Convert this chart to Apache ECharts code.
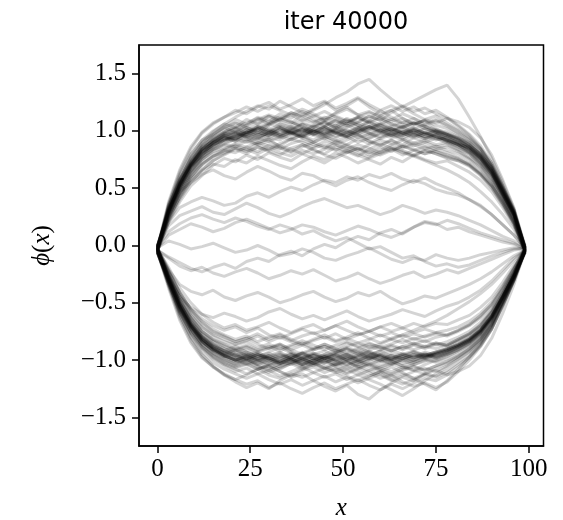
<!DOCTYPE html>
<html>
<head>
<meta charset="utf-8">
<title>iter 40000</title>
<script src="https://cdn.jsdelivr.net/npm/echarts@6/dist/echarts.min.js"></script>
<style>
  html, body { margin: 0; padding: 0; background: #fff; }
  #chart { width: 563px; height: 520px; }
</style>
</head>
<body>
<div id="chart"></div>
<script>
// sample positions along x
const xs = [0, 3, 6, 9, 12, 15, 18, 21, 24, 27, 30, 33, 36, 39, 42, 45, 48, 51,
            54, 57, 60, 63, 66, 69, 72, 75, 78, 81, 84, 87, 90, 93, 96, 99];

// phi(x), in hundredths
const upperPaths = [
    [-2,28,55,70,78,90,95,92,99,96,103,97,101,106,99,104,98,95,101,108,103,99,96,100,94,97,91,88,86,76,65,44,27,-4],
    [-5,35,60,79,92,97,104,110,106,112,108,115,111,117,113,109,116,121,114,110,118,112,107,111,105,109,104,98,92,84,70,50,29,-2],
    [0,22,42,58,66,74,79,84,80,86,82,79,85,88,83,80,86,82,78,84,89,85,81,78,83,80,76,74,70,62,52,38,20,-5],
    [-3,31,50,66,80,85,92,96,101,98,105,110,107,114,119,125,118,122,128,121,115,118,111,106,109,102,97,93,87,80,66,48,27,-1],
    [-4,29,53,71,83,92,97,99,94,90,93,86,82,88,84,79,76,81,85,79,83,88,92,87,90,94,89,84,80,71,60,42,24,-6],
    [-1,33,58,72,86,91,98,102,97,104,100,106,103,99,105,108,102,98,103,109,105,101,104,98,102,99,95,91,87,79,68,49,31,0],
    [-6,26,47,62,75,82,85,89,93,88,91,87,93,96,90,94,89,92,96,91,87,92,88,94,90,86,88,83,77,70,57,41,22,-3],
    [-2,36,62,80,92,100,106,103,110,106,113,109,116,112,118,123,129,134,141,145,136,128,121,115,110,113,107,101,94,85,72,52,31,-3],
    [-3,27,50,68,79,88,92,97,95,101,99,104,100,106,103,108,104,111,107,113,109,116,121,126,131,136,140,128,112,95,76,55,32,-2],
    [-5,20,38,52,61,70,76,73,79,75,81,77,74,80,76,72,78,83,79,75,71,77,73,79,75,72,74,69,64,57,47,33,17,-7],
    [-1,30,54,73,84,89,96,93,98,102,97,95,100,96,92,98,103,99,94,97,101,96,99,103,98,95,92,88,81,72,61,44,25,-4],
    [-4,32,51,67,77,87,91,95,99,104,101,97,94,99,96,101,105,100,97,93,98,94,97,101,97,99,94,90,84,76,63,46,28,-1],
    [-2,34,57,76,88,96,103,107,104,109,113,108,105,110,107,112,109,104,108,113,110,106,103,107,104,100,98,94,90,82,69,50,30,-3],
    [-3,25,46,63,73,80,84,88,86,90,87,84,89,92,88,85,91,87,83,88,92,89,85,88,84,87,83,80,75,67,55,39,21,-5],
    [0,29,52,69,81,90,93,98,95,99,96,102,98,94,99,103,99,95,100,104,100,96,101,97,93,97,94,89,85,76,64,45,26,-2],
    [-6,27,49,64,76,84,89,94,98,103,107,112,108,104,100,96,91,95,90,94,98,102,98,94,97,93,91,86,81,73,61,43,24,-4],
    [-2,38,66,86,99,107,112,116,121,117,122,118,114,119,115,110,106,110,105,101,105,100,103,99,102,98,96,92,86,78,66,48,28,-2],
    [-3,30,53,70,82,87,94,91,96,93,99,95,92,97,101,98,102,107,103,99,103,100,96,99,95,98,93,90,85,77,64,46,27,-3],
    [-5,24,48,65,77,84,88,93,90,94,91,95,99,94,90,95,92,88,93,89,94,98,93,89,92,88,90,86,80,71,59,42,23,-6],
    [-1,31,55,71,85,93,98,96,101,97,94,99,104,101,97,93,98,101,97,102,106,102,98,95,99,95,92,89,84,77,65,47,29,-1],
    [-4,33,56,73,87,94,99,104,101,106,110,105,102,107,104,109,113,109,105,102,106,110,106,102,105,101,99,95,89,80,68,49,29,-3],
    [-2,28,50,68,80,88,95,99,95,92,97,101,97,102,98,95,100,96,99,103,99,96,92,97,93,96,92,88,82,74,62,44,26,-4],
    [-3,23,43,59,70,77,83,81,86,82,88,85,81,86,90,86,83,88,84,81,86,82,87,84,80,84,81,77,72,64,53,37,20,-5],
    [-4,30,54,70,84,91,95,100,97,102,98,103,99,96,101,98,94,99,103,98,95,100,97,101,98,94,91,87,83,75,63,45,26,-3],
    [-1,29,51,68,79,86,92,95,92,97,100,96,101,98,103,107,103,108,112,108,113,110,115,111,107,110,105,100,93,84,70,51,30,-2],
    [-5,32,53,71,82,90,94,91,97,94,99,103,99,95,100,97,101,105,100,96,101,97,94,98,95,92,95,89,84,76,63,45,27,-5],
    [-2,26,45,60,71,78,81,85,82,86,83,87,84,80,85,88,84,81,85,82,79,83,87,83,80,82,78,75,71,63,52,37,19,-4],
    [-3,31,54,72,83,89,96,99,103,99,96,101,97,103,100,96,101,97,100,104,99,102,98,101,97,100,96,92,86,78,65,47,28,-2],
    [-4,30,52,70,84,92,98,102,107,111,106,110,114,109,113,117,112,108,112,107,111,106,103,107,102,99,97,93,88,80,67,48,28,-3],
    [-1,28,52,69,81,88,92,96,99,95,98,94,99,102,97,100,95,98,102,98,93,97,100,96,99,95,92,88,83,75,63,45,27,-4],
    [-3,36,64,84,98,106,112,118,115,121,125,119,123,128,122,126,120,124,129,123,118,122,117,121,115,118,112,105,97,87,72,52,31,-3],
    [-4,24,42,56,65,71,69,75,72,78,74,70,67,73,78,75,81,77,72,76,80,84,79,83,86,82,79,76,70,62,50,35,18,-5],
    [-2,33,57,77,90,99,106,112,117,122,119,126,121,116,110,104,99,94,97,91,88,92,86,90,87,84,86,82,76,68,56,40,22,-4],
    [-5,21,40,55,66,74,80,85,83,89,94,92,98,95,101,104,110,106,112,116,113,118,122,117,120,115,111,104,96,85,70,50,29,-3],
    [-1,31,56,74,86,95,101,107,103,100,106,111,108,103,99,104,109,106,111,107,102,99,104,108,104,100,97,94,88,79,66,47,28,-2],
    [-3,28,49,64,75,83,88,86,91,88,84,89,93,90,86,91,88,84,88,85,81,85,82,78,74,70,66,61,55,47,38,27,14,-4],
    [-2,29,53,70,82,90,96,93,99,103,100,97,102,99,104,101,98,103,107,104,100,104,108,105,110,107,111,108,103,94,79,57,33,-2],
    [-4,34,58,75,89,97,103,99,105,110,114,111,116,113,108,111,115,119,114,117,112,108,111,106,109,105,102,97,90,81,68,49,29,-4],
    [-3,25,45,60,71,78,83,87,84,80,85,81,78,83,80,84,88,85,81,77,82,86,83,79,83,80,77,74,69,61,51,36,19,-5],
    [-1,30,53,71,84,92,99,103,98,102,106,103,98,101,97,102,98,95,99,104,107,103,99,102,98,101,97,92,86,78,65,46,27,-3]
];

const lowerPaths = [
    [-4,-27,-50,-68,-80,-87,-93,-97,-94,-99,-96,-101,-97,-93,-98,-102,-99,-95,-100,-104,-100,-96,-99,-95,-98,-94,-91,-87,-82,-74,-62,-44,-26,-5],
    [-6,-33,-58,-77,-90,-99,-105,-110,-107,-112,-109,-114,-110,-106,-111,-115,-112,-117,-113,-109,-113,-118,-114,-110,-107,-110,-105,-99,-93,-84,-70,-50,-30,-4],
    [-2,-21,-41,-56,-66,-73,-78,-82,-79,-84,-80,-77,-82,-86,-82,-78,-83,-80,-76,-81,-85,-81,-78,-82,-79,-76,-78,-74,-69,-62,-52,-37,-20,-3],
    [-5,-30,-52,-69,-82,-90,-96,-100,-104,-101,-106,-110,-115,-112,-118,-123,-127,-122,-130,-134,-126,-120,-115,-118,-112,-107,-103,-97,-90,-81,-68,-49,-28,-6],
    [-3,-28,-53,-70,-81,-89,-94,-91,-96,-93,-98,-102,-98,-94,-99,-95,-91,-96,-100,-96,-92,-97,-101,-97,-93,-96,-93,-88,-83,-75,-63,-45,-27,-4],
    [-7,-31,-54,-72,-84,-91,-97,-101,-98,-103,-99,-104,-100,-105,-102,-107,-111,-108,-113,-117,-121,-126,-131,-125,-118,-112,-106,-99,-92,-83,-69,-50,-29,-5],
    [-2,-26,-47,-63,-75,-82,-87,-91,-88,-92,-89,-86,-91,-95,-91,-88,-93,-89,-92,-96,-92,-88,-91,-87,-90,-86,-88,-83,-78,-70,-58,-42,-24,-3],
    [-5,-29,-51,-67,-79,-88,-92,-96,-100,-96,-101,-97,-94,-99,-103,-99,-95,-100,-96,-93,-97,-101,-97,-100,-96,-93,-90,-86,-81,-73,-61,-44,-26,-6],
    [-4,-32,-56,-73,-86,-94,-99,-104,-100,-105,-109,-105,-102,-106,-103,-108,-104,-101,-105,-109,-106,-103,-107,-104,-100,-102,-99,-94,-88,-80,-67,-48,-28,-4],
    [-3,-19,-37,-50,-60,-67,-72,-69,-74,-71,-67,-72,-76,-72,-69,-74,-70,-66,-71,-75,-71,-68,-72,-68,-71,-68,-69,-65,-61,-54,-45,-32,-17,-2],
    [-6,-30,-55,-71,-83,-92,-96,-100,-97,-94,-98,-103,-99,-102,-98,-95,-100,-104,-100,-97,-101,-98,-94,-98,-95,-98,-94,-89,-84,-76,-63,-45,-26,-5],
    [-4,-28,-49,-65,-77,-84,-90,-95,-99,-104,-108,-103,-99,-94,-90,-86,-90,-85,-89,-93,-97,-101,-105,-109,-104,-100,-96,-91,-85,-77,-64,-46,-27,-4],
    [-5,-33,-57,-75,-88,-96,-102,-106,-103,-108,-105,-110,-114,-109,-106,-111,-107,-112,-108,-104,-109,-112,-108,-105,-109,-105,-101,-96,-90,-82,-68,-49,-29,-5],
    [-2,-27,-50,-67,-79,-86,-92,-88,-93,-97,-93,-89,-94,-98,-94,-97,-93,-90,-95,-99,-95,-91,-95,-92,-96,-93,-90,-86,-81,-73,-61,-44,-25,-3],
    [-4,-25,-45,-61,-72,-79,-84,-87,-84,-89,-86,-90,-87,-83,-87,-91,-87,-84,-88,-85,-89,-86,-82,-86,-83,-87,-84,-80,-75,-67,-56,-40,-22,-4],
    [-6,-35,-61,-80,-93,-102,-108,-112,-116,-112,-117,-121,-117,-122,-118,-114,-119,-115,-120,-116,-112,-117,-121,-117,-113,-115,-111,-104,-97,-87,-73,-52,-31,-6],
    [-3,-29,-52,-69,-82,-89,-94,-98,-95,-99,-103,-99,-95,-100,-96,-100,-104,-99,-96,-92,-96,-100,-96,-93,-97,-94,-91,-87,-82,-74,-62,-45,-26,-4],
    [-5,-37,-65,-85,-98,-106,-112,-117,-113,-108,-104,-108,-103,-99,-103,-98,-102,-97,-101,-97,-100,-96,-99,-95,-98,-95,-92,-88,-83,-75,-63,-45,-26,-5],
    [-2,-28,-51,-68,-80,-88,-93,-97,-101,-97,-94,-98,-95,-99,-95,-92,-97,-101,-97,-94,-98,-94,-97,-101,-97,-94,-91,-87,-82,-74,-62,-44,-26,-3],
    [-4,-26,-47,-64,-75,-82,-86,-90,-87,-91,-88,-92,-88,-85,-90,-86,-90,-94,-90,-86,-89,-92,-88,-85,-88,-85,-87,-82,-77,-70,-58,-42,-24,-4],
    [-6,-31,-54,-71,-84,-91,-96,-100,-97,-101,-98,-103,-99,-104,-100,-97,-101,-105,-101,-106,-110,-106,-111,-116,-121,-126,-118,-108,-97,-86,-72,-52,-30,-5],
    [-3,-29,-52,-69,-81,-89,-95,-91,-96,-100,-96,-93,-98,-94,-99,-103,-98,-95,-99,-96,-100,-104,-99,-96,-99,-95,-92,-88,-83,-75,-62,-45,-26,-4],
    [-4,-23,-43,-58,-69,-76,-80,-84,-81,-77,-82,-78,-83,-79,-76,-81,-77,-82,-78,-75,-79,-76,-80,-77,-80,-77,-79,-75,-70,-63,-53,-38,-21,-3],
    [-5,-30,-53,-70,-82,-90,-96,-100,-96,-101,-97,-94,-99,-103,-100,-96,-100,-97,-93,-98,-102,-99,-95,-98,-95,-98,-94,-89,-84,-76,-63,-46,-27,-5],
    [-3,-28,-50,-66,-78,-86,-90,-94,-91,-95,-99,-95,-99,-104,-100,-105,-109,-105,-110,-114,-110,-115,-112,-116,-112,-114,-109,-102,-95,-85,-71,-51,-30,-4],
    [-5,-31,-54,-71,-83,-91,-97,-94,-99,-95,-99,-103,-100,-96,-101,-97,-94,-98,-102,-98,-95,-99,-95,-98,-94,-97,-93,-89,-84,-76,-64,-46,-27,-5],
    [-4,-33,-58,-76,-89,-97,-103,-107,-104,-108,-105,-101,-104,-100,-96,-99,-95,-91,-95,-91,-88,-92,-88,-91,-88,-90,-87,-83,-78,-71,-59,-42,-24,-3],
    [-2,-27,-50,-68,-80,-87,-92,-96,-93,-97,-101,-98,-102,-98,-95,-99,-96,-100,-104,-100,-96,-100,-97,-93,-96,-93,-90,-86,-81,-74,-62,-44,-25,-3],
    [-6,-30,-53,-70,-83,-91,-95,-99,-103,-99,-96,-101,-97,-101,-105,-101,-97,-94,-98,-95,-99,-103,-99,-102,-98,-95,-92,-88,-82,-74,-62,-45,-26,-6],
    [-3,-32,-56,-73,-86,-94,-100,-103,-99,-104,-101,-106,-102,-98,-103,-107,-103,-108,-104,-100,-105,-101,-105,-102,-99,-101,-97,-92,-87,-79,-66,-48,-28,-4],
    [-4,-35,-63,-83,-97,-106,-113,-117,-121,-118,-124,-120,-125,-129,-124,-120,-125,-121,-117,-122,-126,-121,-125,-120,-116,-118,-113,-106,-98,-88,-73,-53,-31,-4],
    [-3,-23,-41,-55,-64,-70,-74,-71,-76,-72,-78,-81,-77,-73,-77,-74,-70,-74,-78,-75,-71,-75,-72,-76,-73,-76,-74,-71,-66,-59,-49,-35,-19,-3],
    [-5,-34,-60,-80,-95,-105,-113,-119,-124,-120,-125,-118,-113,-108,-103,-98,-94,-90,-93,-88,-91,-87,-90,-86,-89,-85,-87,-82,-77,-69,-57,-41,-23,-5],
    [-4,-22,-41,-56,-67,-75,-79,-84,-81,-86,-90,-87,-93,-97,-94,-99,-104,-101,-107,-111,-116,-113,-119,-123,-120,-124,-119,-110,-100,-88,-73,-52,-30,-4],
    [-2,-30,-55,-73,-86,-95,-101,-105,-101,-106,-111,-107,-103,-108,-104,-100,-106,-111,-107,-103,-108,-104,-100,-104,-101,-97,-95,-91,-86,-78,-65,-47,-28,-3],
    [-5,-27,-48,-63,-75,-83,-88,-92,-89,-93,-90,-86,-91,-87,-91,-88,-92,-88,-85,-89,-86,-82,-78,-74,-70,-66,-61,-55,-49,-42,-34,-24,-13,-4],
    [-3,-29,-53,-70,-82,-90,-96,-100,-96,-100,-104,-101,-97,-101,-98,-102,-105,-102,-106,-103,-107,-110,-106,-109,-112,-109,-113,-110,-105,-96,-81,-59,-34,-3],
    [-6,-33,-58,-76,-89,-98,-104,-108,-112,-108,-113,-116,-112,-115,-111,-107,-110,-114,-118,-114,-110,-113,-109,-106,-109,-105,-102,-97,-91,-82,-69,-49,-29,-5],
    [-2,-25,-45,-60,-71,-78,-82,-86,-83,-79,-84,-80,-84,-87,-83,-80,-84,-81,-85,-82,-78,-82,-85,-81,-84,-80,-78,-74,-69,-61,-51,-36,-20,-3],
    [-4,-30,-53,-71,-84,-92,-98,-102,-99,-95,-99,-96,-100,-104,-101,-97,-101,-98,-102,-99,-95,-99,-103,-100,-96,-99,-95,-91,-85,-77,-64,-46,-27,-4]
];

const middlePaths = [
    [0,30,47,55,62,66,61,58,64,69,65,60,57,63,61,56,52,57,60,55,51,48,53,57,54,49,46,44,40,35,27,18,9,-2],
    [-2,20,33,38,42,39,35,37,43,46,42,47,51,48,53,57,55,60,57,62,59,63,58,55,59,54,50,46,40,34,27,18,9,-3],
    [-1,17,26,30,34,29,27,32,37,33,28,25,29,34,38,41,37,33,35,31,27,30,35,32,28,31,29,26,22,18,13,8,4,-2],
    [-3,9,14,19,16,12,15,20,23,19,15,11,14,18,16,12,9,13,17,14,10,7,11,16,21,19,14,16,12,9,6,3,1,-3],
    [-2,4,1,-3,-1,2,-2,-6,-4,0,-4,-9,-7,-3,-6,-11,-13,-9,-6,-2,-7,-12,-15,-11,-13,-8,-11,-13,-11,-8,-6,-4,-2,-3],
    [-4,-11,-18,-22,-19,-24,-27,-23,-20,-24,-29,-26,-22,-25,-21,-26,-31,-28,-24,-29,-33,-30,-26,-23,-28,-25,-21,-24,-20,-16,-12,-8,-4,-3],
    [-3,-21,-34,-40,-43,-39,-45,-48,-44,-41,-45,-50,-47,-43,-40,-45,-49,-46,-41,-44,-40,-46,-51,-48,-44,-46,-42,-38,-34,-29,-23,-16,-9,-4],
    [-5,-28,-45,-54,-60,-63,-59,-62,-66,-63,-58,-55,-60,-64,-61,-65,-61,-57,-62,-66,-63,-60,-56,-59,-62,-57,-53,-50,-45,-39,-31,-21,-11,-4],
    [-2,12,19,24,27,23,20,24,21,17,14,18,15,10,13,8,4,7,2,-3,-1,-6,-11,-9,-14,-18,-16,-19,-17,-13,-9,-6,-3,-2],
    [-4,-10,-15,-20,-23,-19,-16,-20,-14,-11,-14,-8,-5,-9,-3,1,-2,4,8,5,11,14,10,16,20,18,22,19,15,11,8,5,2,-3]
];

const xTicks = [0, 25, 50, 75, 100];
const yTicks = [-1.5, -1.0, -0.5, 0.0, 0.5, 1.0, 1.5];

const serif = '"Liberation Serif", "DejaVu Serif", serif';
const frame = { color: '#000', width: 1.5 };

const chart = echarts.init(document.getElementById('chart'));

const allPaths = upperPaths.concat(lowerPaths, middlePaths);

var options = {
    animation: false,
    title: {
        text: 'iter 40000',
        left: 341,
        top: 6,
        textAlign: 'center',
        textStyle: {
            fontFamily: '"DejaVu Sans", sans-serif',
            fontWeight: 'normal',
            fontSize: 24,
            color: '#000'
        }
    },
    grid: {
        left: 139,
        right: 19.5,
        top: 45,
        bottom: 74,
        show: true,
        borderColor: '#000',
        borderWidth: 1.5,
        containLabel: false,
        outerBoundsMode: 'none'
    },
    xAxis: {
        type: 'value',
        min: -4.95,
        max: 103.95,
        splitLine: { show: false },
        axisLine: { show: true, onZero: false, lineStyle: frame },
        axisTick: {
            show: true,
            inside: false,
            length: 7,
            customValues: xTicks,
            lineStyle: frame
        },
        axisLabel: {
            customValues: xTicks,
            margin: 11,
            fontFamily: serif,
            fontSize: 25,
            color: '#000'
        },
        name: 'x',
        nameLocation: 'middle',
        nameGap: 50,
        nameTextStyle: {
            fontFamily: serif,
            fontStyle: 'italic',
            fontSize: 25,
            color: '#000'
        }
    },
    yAxis: {
        type: 'value',
        min: -1.75,
        max: 1.75,
        splitLine: { show: false },
        axisLine: { show: true, onZero: false, lineStyle: frame },
        axisTick: {
            show: true,
            inside: false,
            length: 7,
            customValues: yTicks,
            lineStyle: frame
        },
        axisLabel: {
            customValues: yTicks,
            margin: 13,
            fontFamily: serif,
            fontSize: 25,
            color: '#000',
            formatter: v => v.toFixed(1).replace('-', '\u2212')
        },
        name: '{i|\u03d5}{n|(}{i|x}{n|)}',
        nameLocation: 'middle',
        nameRotate: 90,
        nameGap: 84,
        nameTextStyle: {
            rich: {
                i: { fontFamily: serif, fontStyle: 'italic', fontSize: 25, color: '#000' },
                n: { fontFamily: serif, fontSize: 25, color: '#000' }
            }
        }
    },
    series: allPaths.map(path => {
        return {
            type: 'line',
            silent: true,
            symbol: 'none',
            showSymbol: false,
            data: path.map((v, i) => [xs[i], v / 100]),
            lineStyle: { color: 'rgba(0,0,0,0.17)', width: 3 }
        };
    })
};

chart.setOption(options);
</script>
</body>
</html>
